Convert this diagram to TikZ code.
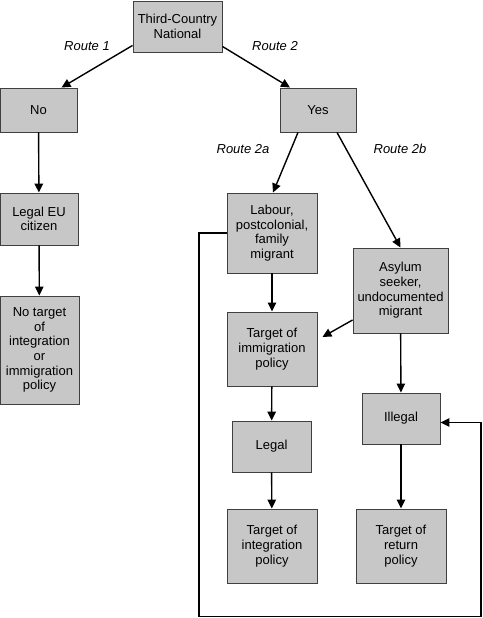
\documentclass[tikz,border=0pt]{standalone}
\usepackage{fontspec}
\setmainfont{Liberation Sans}
\usetikzlibrary{arrows.meta}

\begin{document}
\begin{tikzpicture}[x=1pt,y=-1pt,
  box/.style={draw=black!75,fill=black!22,line width=0.9pt,align=center,inner sep=1pt,
    font=\fontsize{13}{14.7}\selectfont},
  route/.style={font=\fontsize{13}{14.7}\selectfont\itshape},
  link/.style={line width=1.4pt,-{Triangle[length=9pt,width=8.5pt]}}]
\useasboundingbox (0,0) rectangle (482,618);
% boxes
\node [box,minimum width=89pt,minimum height=51pt] (tcn) at (177.5,26.5) {Third-Country\\National};
\node [box,minimum width=77pt,minimum height=44pt] (no) at (38.5,110) {No};
\node [box,minimum width=76pt,minimum height=44pt] (yes) at (318,110) {Yes};
\node [box,minimum width=78pt,minimum height=52pt] (eu) at (39,219) {Legal EU\\citizen};
\node [box,minimum width=79pt,minimum height=108pt] (notarget) at (39.5,350) {No target\\of\\integration\\or\\immigration\\policy};
\node [box,minimum width=90pt,minimum height=80pt] (labour) at (272,233) {Labour,\\postcolonial,\\family\\migrant};
\node [box,minimum width=95pt,minimum height=85pt] (asylum) at (400.5,290.5) {Asylum\\seeker,\\undocumented\\migrant};
\node [box,minimum width=90pt,minimum height=74pt] (immig) at (272,349) {Target of\\immigration\\policy};
\node [box,minimum width=78pt,minimum height=51pt] (illegal) at (401,418.5) {Illegal};
\node [box,minimum width=79pt,minimum height=51pt] (legal) at (271.5,446.5) {Legal};
\node [box,minimum width=90pt,minimum height=74pt] (integ) at (272,546) {Target of\\integration\\policy};
\node [box,minimum width=90pt,minimum height=74pt] (ret) at (401,546) {Target of\\return\\policy};
% route labels
\node [route] (r1) at (87,46) {Route 1};
\node [route] (r2) at (275,46) {Route 2};
\node [route] (r2a) at (243,149) {Route 2a};
\node [route] (r2b) at (400,149) {Route 2b};
% arrows
\draw [link] ([yshift=7pt]tcn.south west) -- ([xshift=23pt]no.north);
\draw [link] ([yshift=6pt]tcn.south east) -- ([xshift=-28pt]yes.north);
\draw [link] ([xshift=-20pt]yes.south) -- ([xshift=1pt]labour.north);
\draw [link] ([xshift=19pt]yes.south) -- (asylum.north);
\draw [link] ([yshift=-29.5pt]asylum.west) -- ([xshift=5pt,yshift=12pt]immig.east);
\draw [link] (no) -- (eu);
\draw [link] (eu) -- (notarget);
\draw [link] (labour) -- (immig);
\draw [link] (immig) -- (legal);
\draw [link] (legal) -- (integ);
\draw [link] (asylum) -- (illegal);
\draw [link] (illegal) -- (ret);
% loop back to illegal
\coordinate (loopbl) at (199,616.5);
\coordinate (loopbr) at (481,616.5);
\draw [link] (labour.west) -| (loopbl) -- (loopbr) |- ([yshift=-4pt]illegal.east);
\end{tikzpicture}
\end{document}
